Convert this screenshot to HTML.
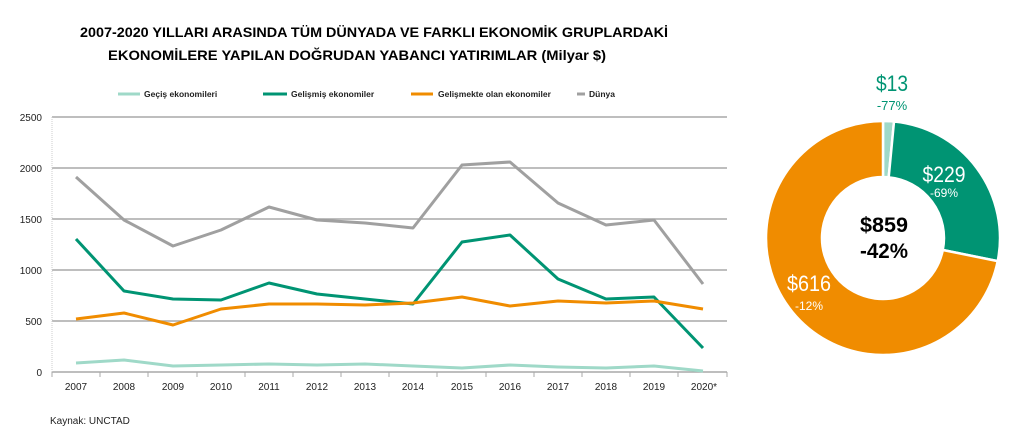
<!DOCTYPE html>
<html><head><meta charset="utf-8"><style>
body{margin:0;background:#fff;}
svg text{font-family:"Liberation Sans",sans-serif;}
</style></head><body>
<svg width="1024" height="437" viewBox="0 0 1024 437" xmlns="http://www.w3.org/2000/svg">
<text x="80" y="37" font-size="14" font-weight="bold" fill="#000" textLength="588" lengthAdjust="spacingAndGlyphs">2007-2020 YILLARI ARASINDA TÜM DÜNYADA VE FARKLI EKONOMİK GRUPLARDAKİ</text>
<text x="108" y="60" font-size="14" font-weight="bold" fill="#000" textLength="498" lengthAdjust="spacingAndGlyphs">EKONOMİLERE YAPILAN DOĞRUDAN YABANCI YATIRIMLAR (Milyar $)</text>
<g font-size="8.5" font-weight="bold" fill="#222">
<line x1="118" y1="94" x2="140" y2="94" stroke="#9fd9c8" stroke-width="3"/><text x="144" y="97">Geçiş ekonomileri</text>
<line x1="263" y1="94" x2="287" y2="94" stroke="#009473" stroke-width="3"/><text x="291" y="97">Gelişmiş ekonomiler</text>
<line x1="411" y1="94" x2="433" y2="94" stroke="#f08c00" stroke-width="3"/><text x="438" y="97">Gelişmekte olan ekonomiler</text>
<line x1="577" y1="94" x2="585" y2="94" stroke="#a0a0a0" stroke-width="3"/><text x="589" y="97">Dünya</text>
</g>
<g stroke="#a8a8a8" stroke-width="1.5">
<line x1="52" y1="117" x2="727" y2="117"/><line x1="52" y1="168" x2="727" y2="168"/><line x1="52" y1="219" x2="727" y2="219"/><line x1="52" y1="270" x2="727" y2="270"/><line x1="52" y1="321" x2="727" y2="321"/><line x1="52" y1="372" x2="727" y2="372"/>
</g>
<line x1="52" y1="117" x2="52" y2="372" stroke="#ccc" stroke-dasharray="1,1"/>
<g stroke="#a8a8a8"><line x1="52" y1="372" x2="52" y2="377"/><line x1="100" y1="372" x2="100" y2="377"/><line x1="148" y1="372" x2="148" y2="377"/><line x1="197" y1="372" x2="197" y2="377"/><line x1="245" y1="372" x2="245" y2="377"/><line x1="293" y1="372" x2="293" y2="377"/><line x1="341" y1="372" x2="341" y2="377"/><line x1="389" y1="372" x2="389" y2="377"/><line x1="437" y1="372" x2="437" y2="377"/><line x1="486" y1="372" x2="486" y2="377"/><line x1="534" y1="372" x2="534" y2="377"/><line x1="582" y1="372" x2="582" y2="377"/><line x1="630" y1="372" x2="630" y2="377"/><line x1="678" y1="372" x2="678" y2="377"/><line x1="727" y1="372" x2="727" y2="377"/></g>
<g font-size="10" fill="#222" text-anchor="end">
<text x="42" y="121">2500</text><text x="42" y="172">2000</text><text x="42" y="223">1500</text><text x="42" y="274">1000</text><text x="42" y="325">500</text><text x="42" y="376">0</text>
</g>
<g font-size="10" fill="#222" text-anchor="middle">
<text x="76" y="390">2007</text><text x="124" y="390">2008</text><text x="173" y="390">2009</text><text x="221" y="390">2010</text><text x="269" y="390">2011</text><text x="317" y="390">2012</text><text x="365" y="390">2013</text><text x="413" y="390">2014</text><text x="462" y="390">2015</text><text x="510" y="390">2016</text><text x="558" y="390">2017</text><text x="606" y="390">2018</text><text x="654" y="390">2019</text><text x="704" y="390">2020*</text>
</g>
<text x="50" y="424" font-size="10" fill="#222">Kaynak: UNCTAD</text>
<g fill="none" stroke-width="3" stroke-linejoin="round">
<polyline stroke="#a0a0a0" points="76,177 124,220 173,246 221,230 269,207 317,220 365,223 413,228 462,165 510,162 558,203 606,225 654,220 703,284"/>
<polyline stroke="#009473" points="76,239 124,291 173,299 221,300 269,283 317,294 365,299 413,304 462,242 510,235 558,279 606,299 654,297 703,348"/>
<polyline stroke="#f08c00" points="76,319 124,313 173,325 221,309 269,304 317,304 365,305 413,303 462,297 510,306 558,301 606,303 654,301 703,309"/>
<polyline stroke="#9fd9c8" points="76,363 124,360 173,366 221,365 269,364 317,365 365,364 413,366 462,368 510,365 558,367 606,368 654,366 703,371"/>
</g>
<g transform="translate(883,238)" stroke="#fff" stroke-width="2.5">
<path fill="#9fd9c8" d="M0,-117 A117,117 0 0 1 11,-116.5 L5.7,-60.7 A61,61 0 0 0 0,-61 Z"/>
<path fill="#009473" d="M11,-116.5 A117,117 0 0 1 114.7,23.1 L59.8,12 A61,61 0 0 0 5.7,-60.7 Z"/>
<path fill="#f08c00" d="M114.7,23.1 A117,117 0 1 1 0,-117 L0,-61 A61,61 0 1 0 59.8,12 Z"/>
</g>
<g text-anchor="middle">
<text x="892" y="91" font-size="22" fill="#009473" textLength="32" lengthAdjust="spacingAndGlyphs">$13</text>
<text x="892" y="110" font-size="13" fill="#009473">-77%</text>
<text x="944" y="182" font-size="22" fill="#fff" textLength="43" lengthAdjust="spacingAndGlyphs">$229</text>
<text x="944" y="197" font-size="12" fill="#fff">-69%</text>
<text x="809" y="291" font-size="22" fill="#fff" textLength="44" lengthAdjust="spacingAndGlyphs">$616</text>
<text x="809" y="310" font-size="12" fill="#fff">-12%</text>
<text x="884" y="232" font-size="21" font-weight="bold" fill="#000" textLength="48" lengthAdjust="spacingAndGlyphs">$859</text>
<text x="884" y="258" font-size="21" font-weight="bold" fill="#000" textLength="48" lengthAdjust="spacingAndGlyphs">-42%</text>
</g>
</svg>
</body></html>
